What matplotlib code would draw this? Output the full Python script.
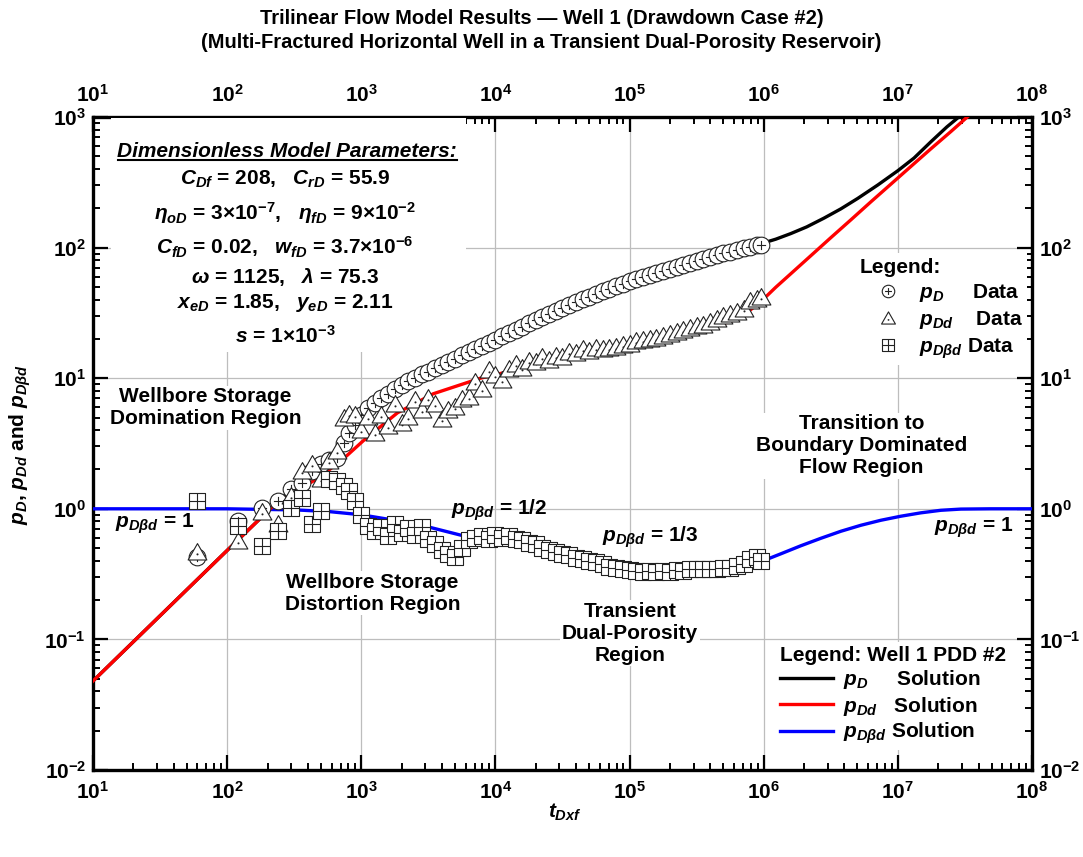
import matplotlib
matplotlib.use("Agg")
import matplotlib.pyplot as plt
from matplotlib.path import Path
from matplotlib.lines import Line2D
from matplotlib.patches import Rectangle
from matplotlib.transforms import IdentityTransform
from matplotlib.ticker import LogLocator, NullFormatter

plt.rcParams["font.family"] = ["Liberation Sans", "DejaVu Sans"]
plt.rcParams["font.weight"] = "bold"
plt.rcParams["mathtext.fontset"] = "custom"
plt.rcParams["mathtext.rm"] = "Liberation Sans:bold"
plt.rcParams["mathtext.it"] = "Liberation Sans:italic:bold"
plt.rcParams["mathtext.bf"] = "Liberation Sans:bold"
plt.rcParams["mathtext.sf"] = "Liberation Sans:bold"

# ---- data ----
# sampling times of the measured data (shared by all three data series)
t_data = [
    59.7, 121, 182, 240, 301, 363, 431, 501, 575, 661, 746, 813,
    891, 1000, 1122, 1259, 1413, 1585, 1778, 1995, 2239, 2512, 2818,
    3162, 3548, 3981, 4467, 5012, 5623, 6310, 7079, 7943, 8913,
    1.0e4, 1.122e4, 1.259e4, 1.413e4, 1.585e4, 1.778e4, 1.995e4, 2.239e4,
    2.512e4, 2.818e4, 3.162e4, 3.548e4, 3.981e4, 4.467e4, 5.012e4,
    5.623e4, 6.310e4, 7.079e4, 7.943e4, 8.913e4,
    1.0e5, 1.122e5, 1.259e5, 1.413e5, 1.585e5, 1.778e5, 1.995e5, 2.239e5,
    2.512e5, 2.818e5, 3.162e5, 3.548e5, 3.981e5, 4.467e5, 5.012e5,
    5.623e5, 6.310e5, 7.079e5, 7.943e5, 8.913e5, 9.55e5,
]
pD_data = [
    0.43, 0.81, 1.02, 1.15, 1.42, 1.58, 1.95, 2.2, 2.37, 2.46, 3.2, 3.8,
    4.37, 5.25, 5.89, 6.46, 7.00, 7.59, 8.22, 8.81, 9.44, 10.0, 10.7,
    11.2, 11.9, 12.6, 13.3, 14.1, 15.0, 15.8, 16.8, 17.6, 18.6,
    19.7, 20.9, 22.1, 23.4, 24.8, 26.3, 27.9, 29.5, 30.9,
    32.7, 34.3, 36.3, 38.0, 40.3, 42.2, 44.2, 46.2, 48.4, 50.7, 53.1,
    55.6, 57.5, 59.6, 61.7, 63.8, 66.1, 68.4, 70.8, 73.3,
    75.9, 78.5, 81.3, 84.1, 87.1, 90.2, 93.3, 96.6, 98.9, 101, 104, 105,
]
pDd_data = [
    0.47, 0.57, 0.95, 0.77, 1.26, 1.95, 2.2, 1.70, 2.33, 2.78, 4.98, 5.3,
    5.25, 3.98, 5.01, 3.80, 5.25, 4.27, 6.31, 4.57, 5.01, 6.76, 5.75,
    7.08, 6.31, 4.90, 5.75, 6.03, 6.92, 7.24, 9.33, 8.32, 11.5,
    10.5, 9.77, 11.7, 12.9, 12.0, 13.5, 13.2, 14.5, 13.8,
    14.8, 14.5, 15.8, 15.5, 16.6, 16.2, 17.0, 16.6, 17.0, 17.4, 17.8,
    18.2, 19.1, 19.5, 20.0, 20.4, 20.9, 21.9, 22.4, 23.4,
    24.3, 25.1, 25.7, 26.9, 28.2, 29.9, 30.9, 32.4, 33.9, 38.9, 40.7, 41.7,
]
pDbd_data = [
    1.15, 0.74, 0.52, 0.68, 1.02, 1.21, 0.77, 0.96, 1.70, 1.64, 1.50, 1.37,
    1.15, 0.89, 0.74, 0.68, 0.72, 0.62, 0.76, 0.65, 0.71, 0.63, 0.72,
    0.59, 0.54, 0.48, 0.45, 0.43, 0.50, 0.58, 0.60, 0.62, 0.59,
    0.63, 0.60, 0.62, 0.59, 0.58, 0.55, 0.54, 0.50, 0.48,
    0.47, 0.45, 0.44, 0.42, 0.41, 0.40, 0.39, 0.38, 0.36, 0.355, 0.347,
    0.339, 0.335, 0.331, 0.335, 0.331, 0.335, 0.331, 0.339, 0.335,
    0.347, 0.343, 0.347, 0.343, 0.347, 0.351, 0.355, 0.363, 0.38, 0.41, 0.43, 0.40,
]

# model solutions
t_pD_sol = [10, 100, 216, 300, 500, 734, 1000, 2000, 5000, 1e4, 3.16e4, 1e5,
            3.16e5, 9.51e5, 1.23e6, 1.59e6, 2.09e6, 2.81e6, 3.76e6, 5.02e6,
            7.10e6, 1e7, 1.32e7, 1.76e7, 2.32e7, 3.05e7, 3.82e7]
pD_sol = [0.048, 0.48, 1.03, 1.40, 2.2, 3.1, 5.2, 8.8, 14.1, 19.7, 34.3, 55.6,
          78.5, 107, 116, 128, 144, 168, 198, 238,
          302, 388, 485, 645, 840, 1060, 1280]

t_pDd_sol = [10, 100, 216, 351, 494, 734, 1035, 1860, 3440, 7730, 1.82e4,
             3.82e4, 1e5, 2.13e5, 3.82e5, 5.5e5, 6.7e5, 8.0e5, 9.5e5, 1.23e6,
             1.59e6, 2.24e6, 3.16e6, 4.46e6, 6.29e6, 8.87e6, 1.25e7, 1.76e7,
             2.49e7, 3.51e7]
pDd_sol = [0.048, 0.48, 1.03, 1.42, 1.76, 2.41, 3.32, 5.43, 7.6, 10.0, 12.3,
           15.0, 17.5, 20.5, 24.5, 27.0, 29.5, 33.5, 38.5, 49.7,
           63, 86.5, 119, 163, 224, 306, 418, 570,
           775, 1060]

t_pDbd_sol = [10, 100, 182, 331, 587, 1000, 1860, 3270, 6180, 1e4, 1.82e4,
              3.21e4, 6.08e4, 1e5, 2.4e5, 4.8e5, 7.3e5, 1.035e6, 1.34e6,
              1.89e6, 2.66e6, 3.76e6, 5.30e6, 7.47e6, 1.05e7, 1.48e7, 2.09e7,
              2.95e7, 4.94e7, 1e8]
pDbd_sol = [1.0, 1.0, 0.99, 0.98, 0.95, 0.90, 0.81, 0.72, 0.61, 0.56, 0.49,
            0.44, 0.39, 0.36, 0.335, 0.335, 0.354, 0.407, 0.452,
            0.521, 0.594, 0.673, 0.748, 0.817, 0.877, 0.931, 0.974,
            0.995, 1.0, 1.0]

x_ticks = [1e1, 1e2, 1e3, 1e4, 1e5, 1e6, 1e7, 1e8]
x_tick_labels = ["$10^{1}$", "$10^{2}$", "$10^{3}$", "$10^{4}$",
                 "$10^{5}$", "$10^{6}$", "$10^{7}$", "$10^{8}$"]
y_ticks = [1e-2, 1e-1, 1e0, 1e1, 1e2, 1e3]
y_tick_labels = ["$10^{-2}$", "$10^{-1}$", "$10^{0}$", "$10^{1}$",
                 "$10^{2}$", "$10^{3}$"]

FS = 15

# ---- marker shapes: circle with plus, triangle with dot, square with plus ----
MV, LT, CP = Path.MOVETO, Path.LINETO, Path.CLOSEPOLY
circle_plus = Path.make_compound_path(
    Path.unit_circle(),
    Path([[-0.55, 0], [0.55, 0], [0, -0.55], [0, 0.55]], [MV, LT, MV, LT]),
)
tri_dot = Path.make_compound_path(
    Path([[0, 0.95], [-1, -0.8], [1, -0.8], [0, 0.95]], [MV, LT, LT, CP]),
    Path.circle((0, -0.2), 0.05),
)
square_plus = Path.make_compound_path(
    Path([[-1, -1], [1, -1], [1, 1], [-1, 1], [-1, -1]], [MV, LT, LT, LT, CP]),
    Path([[-1, 0], [1, 0], [0, -1], [0, 1]], [MV, LT, MV, LT]),
)

fig = plt.figure(figsize=(10.83, 8.57), dpi=100)
ax = fig.add_axes([93 / 1083, 87 / 857, 939 / 1083, 653 / 857])
ax.set_xscale("log")
ax.set_yscale("log")
ax.set_xlim(1e1, 1e8)
ax.set_ylim(1e-2, 1e3)

ax.grid(True, which="major", color="#bdbdbd", lw=0.9)
for s in ax.spines.values():
    s.set_linewidth(2.4)

ax.set_xticks(x_ticks)
ax.set_xticklabels(x_tick_labels)
ax.set_yticks(y_ticks)
ax.set_yticklabels(y_tick_labels)
ax.xaxis.set_minor_locator(LogLocator(base=10, subs=range(2, 10), numticks=20))
ax.yaxis.set_minor_locator(LogLocator(base=10, subs=range(2, 10), numticks=20))
ax.xaxis.set_minor_formatter(NullFormatter())
ax.yaxis.set_minor_formatter(NullFormatter())
ax.tick_params(which="both", direction="in", top=True, right=True,
               labeltop=True, labelright=True, labelsize=FS)
ax.tick_params(which="major", length=11, width=1.6)
ax.tick_params(which="minor", length=5, width=1.4)
ax.tick_params(axis="x", which="major", pad=8)
ax.tick_params(axis="y", which="major", pad=5)

# solution curves
ax.plot(t_pD_sol, pD_sol, color="black", lw=2.4, zorder=3)
ax.plot(t_pDd_sol, pDd_sol, color="red", lw=2.4, zorder=3.2)
ax.plot(t_pDbd_sol, pDbd_sol, color="blue", lw=2.4, zorder=3.1)

# data markers
mk = dict(ls="none", mfc="white", mec="#222222", mew=0.8)
ax.plot(t_data, pD_data, marker=circle_plus, ms=12, zorder=5, **mk)
ax.plot(t_data, pDd_data, marker=tri_dot, ms=13.5, zorder=6, **mk)
ax.plot(t_data, pDbd_data, marker=square_plus, ms=11.3, zorder=7, **mk)

# white block behind the parameter box
ax.add_patch(Rectangle((0.019, 0.64), 0.378, 0.358, transform=ax.transAxes,
                       facecolor="white", edgecolor="none", zorder=2.6))

# parameter box
ptitle = ax.text(0.2066, 0.9387, "Dimensionless Model Parameters:", transform=ax.transAxes,
                 ha="center", va="baseline", fontsize=FS, fontstyle="italic", zorder=10)
param_lines = [
    (0.8960, r"$C_{Df}$ = 208,   $C_{rD}$ = 55.9"),
    (0.8423, r"$\eta_{oD}$ = 3×10$^{-7}$,   $\eta_{fD}$ = 9×10$^{-2}$"),
    (0.7887, r"$C_{fD}$ = 0.02,   $w_{fD}$ = 3.7×10$^{-6}$"),
    (0.7458, r"$\omega$ = 1125,   $\lambda$ = 75.3"),
    (0.7075, r"$x_{eD}$ = 1.85,   $y_{eD}$ = 2.11"),
    (0.6539, r"$s$ = 1×10$^{-3}$"),
]
for yy, txt in param_lines:
    ax.text(0.2045, yy, txt, transform=ax.transAxes, ha="center",
            va="baseline", fontsize=FS, zorder=10)

wbox = dict(facecolor="white", edgecolor="none", pad=1)
region_labels = [
    (0.1198, 0.5544, "Wellbore Storage\nDomination Region"),
    (0.2977, 0.2710, "Wellbore Storage\nDistortion Region"),
    (0.5719, 0.2098, "Transient\nDual-Porosity\nRegion"),
    (0.8184, 0.4962, "Transition to\nBoundary Dominated\nFlow Region"),
]
for xx, yy, txt in region_labels:
    ax.text(xx, yy, txt, transform=ax.transAxes, ha="center", va="center",
            fontsize=FS, linespacing=1.2, bbox=wbox, zorder=10)

ax.text(0.0234, 0.3706, r"$p_{D\beta d}$ = 1", transform=ax.transAxes,
        ha="left", va="baseline", fontsize=FS, zorder=10)
ax.text(0.4324, 0.3905, r"$p_{D\beta d}$ = 1/2", transform=ax.transAxes,
        ha="center", va="baseline", fontsize=FS, zorder=10)
ax.text(0.5932, 0.3492, r"$p_{D\beta d}$ = 1/3", transform=ax.transAxes,
        ha="center", va="baseline", fontsize=FS, zorder=10)
ax.text(0.9798, 0.3645, r"$p_{D\beta d}$ = 1", transform=ax.transAxes,
        ha="right", va="baseline", fontsize=FS, zorder=10)

# legends
data_handles = [
    Line2D([], [], marker=circle_plus, ms=9, **mk),
    Line2D([], [], marker=tri_dot, ms=10, **mk),
    Line2D([], [], marker=square_plus, ms=8.5, **mk),
]
leg1 = ax.legend(data_handles,
                 [r"$p_D$" + "     Data", r"$p_{Dd}$" + "    Data",
                  r"$p_{D\beta d}$" + " Data"],
                 title="Legend:", alignment="left",
                 loc="upper right", bbox_to_anchor=(0.995, 0.791),
                 fontsize=FS, title_fontproperties={"size": FS, "weight": "bold"},
                 frameon=True, fancybox=False, framealpha=1, edgecolor="none",
                 handlelength=2.7, handletextpad=0.15, labelspacing=0.25,
                 borderpad=0.2, borderaxespad=0)
leg1.set_zorder(10)
ax.add_artist(leg1)

sol_handles = [
    Line2D([], [], color="black", lw=2.4),
    Line2D([], [], color="red", lw=2.4),
    Line2D([], [], color="blue", lw=2.4),
]
leg2 = ax.legend(sol_handles,
                 [r"$p_D$" + "     Solution", r"$p_{Dd}$" + "   Solution",
                  r"$p_{D\beta d}$" + " Solution"],
                 title="Legend: Well 1 PDD #2", alignment="left",
                 loc="lower right", bbox_to_anchor=(0.977, 0.03), fontsize=FS,
                 title_fontproperties={"size": FS, "weight": "bold"},
                 frameon=True, fancybox=False, framealpha=1, edgecolor="none",
                 handlelength=2.55, handletextpad=0.48, labelspacing=0.15,
                 borderpad=0.2, borderaxespad=0)
leg2.set_zorder(10)

# titles and axis labels
fig.text(0.5, 1 - 18 / 857, "Trilinear Flow Model Results — Well 1 (Drawdown Case #2)",
         ha="center", va="center", fontsize=14.5)
fig.text(0.5, 1 - 42 / 857,
         "(Multi-Fractured Horizontal Well in a Transient Dual-Porosity Reservoir)",
         ha="center", va="center", fontsize=14.5)
fig.text(565 / 1083, 1 - 812 / 857, r"$t_{Dxf}$", ha="center", va="center", fontsize=FS)
fig.text(20 / 1083, 1 - 445 / 857, r"$p_D$, $p_{Dd}$ and $p_{D\beta d}$",
         ha="center", va="center", rotation=90, fontsize=FS)

# underline for the parameter heading
fig.canvas.draw()
bb = ptitle.get_window_extent()
fig.add_artist(Line2D([bb.x0 + 1, bb.x1], [bb.y0 + 1, bb.y0 + 1], color="black",
                      lw=1.5, transform=IdentityTransform()))

fig.savefig("out.png", dpi=100)
